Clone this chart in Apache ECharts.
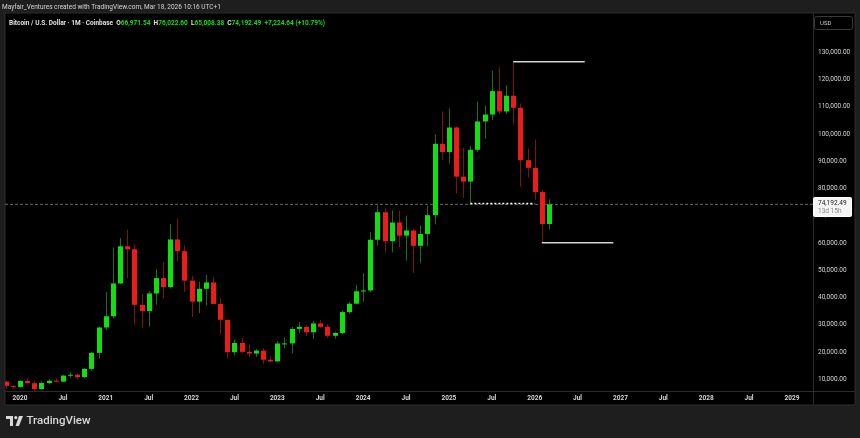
<!DOCTYPE html>
<html><head><meta charset="utf-8">
<script src="https://cdn.jsdelivr.net/npm/echarts@6/dist/echarts.min.js"></script>
<style>html,body{margin:0;padding:0;background:#1e1e1e;}#c{width:860px;height:438px;}</style>
</head><body><div id="c"></div>
<script>
// ---- Data (BTC/USD monthly, Coinbase) ----
const months = ['2019-11','2019-12',
 '2020-01','2020-02','2020-03','2020-04','2020-05','2020-06','2020-07','2020-08','2020-09','2020-10','2020-11','2020-12',
 '2021-01','2021-02','2021-03','2021-04','2021-05','2021-06','2021-07','2021-08','2021-09','2021-10','2021-11','2021-12',
 '2022-01','2022-02','2022-03','2022-04','2022-05','2022-06','2022-07','2022-08','2022-09','2022-10','2022-11','2022-12',
 '2023-01','2023-02','2023-03','2023-04','2023-05','2023-06','2023-07','2023-08','2023-09','2023-10','2023-11','2023-12',
 '2024-01','2024-02','2024-03','2024-04','2024-05','2024-06','2024-07','2024-08','2024-09','2024-10','2024-11','2024-12',
 '2025-01','2025-02','2025-03','2025-04','2025-05','2025-06','2025-07','2025-08','2025-09','2025-10','2025-11','2025-12',
 '2026-01','2026-02','2026-03'];
const open = [9140,7557,
 7194,9350,8543,6410,8630,9450,9140,11350,11655,10780,13800,19700,
 28990,33110,45160,58800,57720,37300,35040,41490,47130,43820,61300,57000,
 46200,38480,43190,45530,37640,31800,19930,23300,20050,19430,20500,17170,
 16550,23130,23150,28470,29250,27220,30470,29230,25940,26970,34650,37720,
 42280,42580,61180,71300,60660,67500,62700,64600,58970,63330,70220,96400,
 93400,102400,84350,82550,94200,104600,107150,115750,108250,114050,109600,90400,
 87600,78700,66971.54];
const high = [9516,7750,
 9578,10500,9190,9460,10080,10380,11450,12470,12080,14100,19900,29300,
 41950,58350,61790,64900,59600,41330,42300,50500,52920,67000,69000,59100,
 47990,45800,48200,47450,39980,31990,24670,25200,22800,21100,21480,18390,
 23960,25250,29200,31000,29800,31400,31800,30200,27500,35200,38420,44700,
 48970,64000,73800,72800,71980,71950,70080,65100,66500,73600,99800,108350,
 109350,102750,95000,95750,111900,110500,123200,124450,117900,126500,111200,94600,
 98000,79400,76022.60];
const low = [6515,6435,
 6850,8450,3850,6150,8110,8900,8990,10520,9880,10375,13200,17600,
 28130,32300,44950,47000,30000,28800,29280,37330,39600,43290,53250,42000,
 32950,34320,37150,37700,26700,17600,18780,19540,18150,18200,15480,16260,
 16500,21350,19550,26940,25800,24750,28860,25170,24900,26540,34100,37600,
 38500,41880,59000,56500,56550,58400,53500,49000,52550,58900,66800,90500,
 89200,78200,76600,74400,93400,98200,105100,107300,107250,103500,80600,84000,
 75800,60100,65008.38];
const close = [7557,7194,
 9350,8543,6410,8630,9450,9140,11350,11655,10780,13800,19700,28990,
 33110,45160,58800,57720,37300,35040,41490,47130,43820,61300,57000,46200,
 38480,43190,45530,37640,31800,19930,23300,20050,19430,20500,17170,16550,
 23130,23150,28470,29250,27220,30470,29230,25940,26970,34650,37720,42280,
 42580,61180,71300,60660,67500,62700,64600,58970,63330,70220,96400,93400,
 102400,84350,82550,94200,104600,107150,115750,108250,114050,109600,90400,87600,
 78700,66967.85,74192.49];
const priceTicks = [10000,20000,30000,40000,50000,60000,70000,80000,90000,100000,110000,120000,130000];
const timeTicks = ['2020-01','2020-07','2021-01','2021-07','2022-01','2022-07','2023-01','2023-07','2024-01','2024-07',
 '2025-01','2025-07','2026-01','2026-07','2027-01','2027-07','2028-01','2028-07','2029-01'];
// drawn horizontal levels: [start month, end month, price]
const levelHigh = ['2025-10','2026-08',126500];
const levelLow = ['2026-02','2026-12',60100];
const levelDotted = ['2025-04','2026-01',74500];
const countdown = '13d 15h';

// ---- helpers ----
const mIdx = s => { const [y,m] = s.split('-').map(Number); return (y-2020)*12 + (m-1); };
const fmt = v => v.toLocaleString('en-US',{minimumFractionDigits:2,maximumFractionDigits:2});
const candles = months.map((m,i)=>[mIdx(m), open[i], close[i], low[i], high[i]]);
const n = months.length;
const lastO = open[n-1], lastH = high[n-1], lastL = low[n-1], lastC = close[n-1], prevC = close[n-2];
const chg = lastC - prevC, pct = chg/prevC*100;

const X_MIN = -2.1, X_MAX = 110.94, Y_MIN = 5688, Y_MAX = 144404;
const bodyUp = '#10e010', bodyDown = '#ee1b1b', wickUp = '#1d6f1d', wickDown = '#7d1414';
const FONT = 'Roboto, "Liberation Sans", sans-serif';

const seg = (l) => [[mIdx(l[0]), l[2]], [mIdx(l[1]), l[2]]];

const chart = echarts.init(document.getElementById('c'), null, {renderer:'canvas'});
chart.setOption({
  backgroundColor: '#1e1e1e',
  animation: false,
  grid: {left: 5, right: 47, top: 13, bottom: 47, containLabel: false},
  xAxis: {
    type: 'value', min: X_MIN, max: X_MAX,
    splitLine: {show:false}, axisLine: {show:false}, axisTick: {show:false},
    axisLabel: {
      customValues: timeTicks.map(mIdx),
      formatter: v => (v % 12 === 0 ? String(2020 + v/12) : 'Jul'),
      color: '#d6d6d6', fontSize: 6.5, fontFamily: FONT, fontWeight: 'bold', margin: 4
    }
  },
  yAxis: {
    type: 'value', position: 'right', min: Y_MIN, max: Y_MAX, scale: true,
    splitLine: {show:false}, axisLine: {show:false}, axisTick: {show:false},
    axisLabel: {
      customValues: priceTicks,
      formatter: v => fmt(v),
      color: '#d6d6d6', fontSize: 6.5, fontFamily: FONT, margin: 5
    }
  },
  series: [
    {
      type: 'line', data: [[X_MIN, lastC],[X_MAX, lastC]], symbol: 'none', silent: true, z: 1,
      lineStyle: {color: '#6a6a6a', width: 1, type: [3,2]}
    },
    {
      type: 'custom', clip: true, z: 3,
      data: candles,
      encode: {x: 0, y: [1,2,3,4]},
      renderItem: function(params, api){
        const x = api.value(0), o = api.value(1), c = api.value(2), l = api.value(3), h = api.value(4);
        const pO = api.coord([x,o]), pC = api.coord([x,c]), pL = api.coord([x,l]), pH = api.coord([x,h]);
        const up = c >= o;
        const cx = Math.round(pO[0]) + 0.5;
        const top = Math.min(pO[1], pC[1]), bot = Math.max(pO[1], pC[1]);
        return {type:'group', children:[
          {type:'line', shape:{x1:cx, y1:pH[1], x2:cx, y2:pL[1]}, style:{stroke: up?wickUp:wickDown, lineWidth:1}},
          {type:'rect', shape:{x:cx-2.5, y:top, width:5, height:Math.max(1, bot-top)}, style:{fill: up?bodyUp:bodyDown}}
        ]};
      }
    },
    {
      type: 'line', data: seg(levelDotted), symbol: 'none', silent: true, z: 4,
      lineStyle: {color: '#ffffff', width: 1.5, type: [2,2]}
    },
    {
      type: 'line', data: seg(levelHigh), symbol: 'none', silent: true, z: 4,
      lineStyle: {color: '#d4d4d4', width: 1.5}
    },
    {
      type: 'line', data: seg(levelLow), symbol: 'none', silent: true, z: 4,
      lineStyle: {color: '#d4d4d4', width: 1.5}
    }
  ],
  graphic: [
    {type:'rect', z:-10, shape:{x:5, y:13, width:850, height:392}, style:{fill:'#000', stroke:'#2c2c2c', lineWidth:1}},
    {type:'line', z:-5, shape:{x1:813.5, y1:13, x2:813.5, y2:405}, style:{stroke:'#2c2c2c', lineWidth:1}},
    {type:'line', z:-5, shape:{x1:5, y1:391.5, x2:855, y2:391.5}, style:{stroke:'#2c2c2c', lineWidth:1}},
    {type:'text', x:2, y:7, style:{text:'Mayfair_Ventures created with TradingView.com, Mar 18, 2026 10:16 UTC+1',
      fill:'#d6d6d6', fontSize:6.5, fontFamily:FONT, verticalAlign:'middle'}},
    {type:'text', x:9, y:23, style:{
      text: '{w|Bitcoin / U.S. Dollar · 1M · Coinbase  O}{g|' + fmt(lastO) + '}{w|  H}{g|' + fmt(lastH) + '}{w|  L}{g|' + fmt(lastL) +
            '}{w|  C}{g|' + fmt(lastC) + '  ' + (chg>=0?'+':'') + fmt(chg) + ' (' + (chg>=0?'+':'') + pct.toFixed(2) + '%)}',
      fontSize:6.5, fontFamily:FONT, verticalAlign:'middle',
      rich:{ w:{fill:'#e0e0e0', color:'#e0e0e0', fontSize:6.5, fontFamily:FONT, fontWeight:'bold'},
             g:{fill:bodyUp, color:bodyUp, fontSize:6.5, fontFamily:FONT, fontWeight:'bold'} }
    }},
    {type:'rect', z:10, shape:{x:814.5, y:16.5, width:38, height:13, r:2}, style:{fill:'#000', stroke:'#3a3a3a', lineWidth:1}},
    {type:'text', z:11, x:820, y:23, style:{text:'USD', fill:'#cfcfcf', fontSize:6, fontFamily:FONT, verticalAlign:'middle'}},
    {type:'rect', z:10, shape:{x:813.5, y:197.5, width:38, height:19, r:1}, style:{fill:'#f4f4f4', stroke:'#ffffff', lineWidth:1}},
    {type:'text', z:11, x:818, y:203, style:{text: fmt(lastC), fill:'#1a1a1a', fontSize:6.5, fontFamily:FONT, verticalAlign:'middle'}},
    {type:'text', z:11, x:818, y:211.5, style:{text: countdown, fill:'#8a8a8a', fontSize:6.5, fontFamily:FONT, verticalAlign:'middle'}},
    // TradingView logo
    {type:'rect', shape:{x:6, y:416, width:7, height:3}, style:{fill:'#d8d8d8'}},
    {type:'rect', shape:{x:10, y:416, width:3, height:10}, style:{fill:'#d8d8d8'}},
    {type:'circle', shape:{cx:15.8, cy:417.6, r:1.6}, style:{fill:'#d8d8d8'}},
    {type:'polygon', shape:{points:[[19,416],[23,416],[19,426],[15.5,426]]}, style:{fill:'#d8d8d8'}},
    {type:'text', x:26.5, y:421.5, style:{text:'TradingView', fill:'#d8d8d8', fontSize:11.5, fontFamily:FONT, fontWeight:500, verticalAlign:'middle'}}
  ]
});
</script></body></html>
